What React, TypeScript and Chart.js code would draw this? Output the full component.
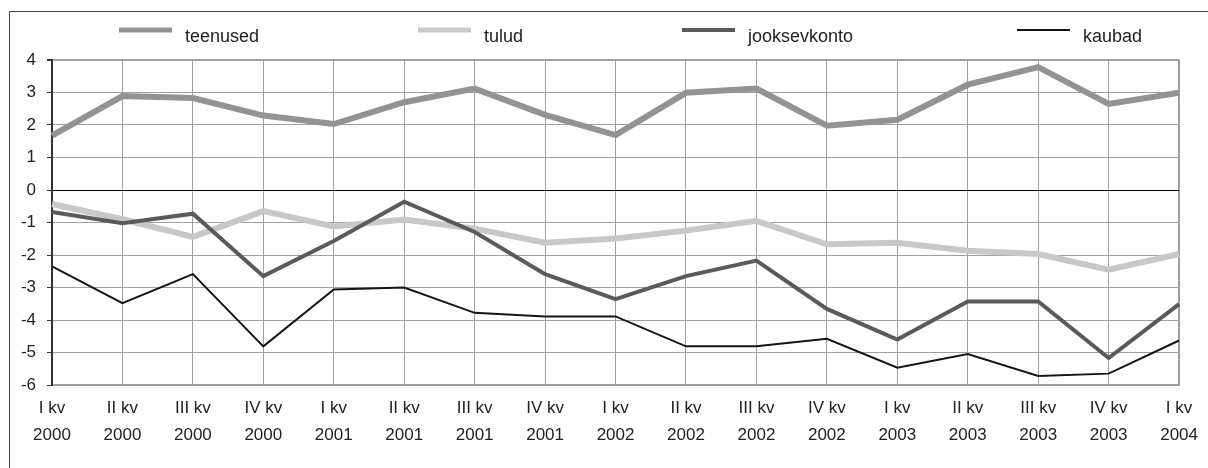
import React, { useEffect, useRef } from "react";
import { Chart, registerables } from "chart.js";

Chart.register(...registerables);

const quarters = ["I kv", "II kv", "III kv", "IV kv", "I kv", "II kv", "III kv", "IV kv", "I kv", "II kv", "III kv", "IV kv", "I kv", "II kv", "III kv", "IV kv", "I kv"];
const years = ["2000", "2000", "2000", "2000", "2001", "2001", "2001", "2001", "2002", "2002", "2002", "2002", "2003", "2003", "2003", "2003", "2004"];

const teenused = [1.67, 2.89, 2.83, 2.29, 2.03, 2.7, 3.12, 2.31, 1.69, 2.99, 3.12, 1.98, 2.16, 3.24, 3.78, 2.65, 2.99];
const tulud = [-0.43, -0.9, -1.44, -0.65, -1.12, -0.91, -1.19, -1.62, -1.49, -1.25, -0.95, -1.67, -1.62, -1.87, -1.97, -2.45, -1.97];
const jooksevkonto = [-0.68, -1.02, -0.73, -2.65, -1.57, -0.36, -1.29, -2.59, -3.36, -2.65, -2.17, -3.66, -4.6, -3.43, -3.43, -5.17, -3.51];
const kaubad = [-2.35, -3.48, -2.59, -4.81, -3.06, -3.0, -3.78, -3.89, -3.89, -4.81, -4.81, -4.58, -5.47, -5.05, -5.72, -5.65, -4.63];

const yMin = -6;
const yMax = 4;

const FONT = "Arial, 'Liberation Sans', sans-serif";

const excelLegend = {
  id: "excelLegend",
  afterDraw(chart: any, _args: any, opts: any) {
    const ctx = chart.ctx;
    ctx.save();
    ctx.strokeStyle = "#444";
    ctx.lineWidth = 1;
    ctx.beginPath();
    ctx.moveTo(9.5, chart.height + 5);
    ctx.lineTo(9.5, 11.5);
    ctx.lineTo(chart.width + 5, 11.5);
    ctx.stroke();
    chart.data.datasets.forEach((ds: any, i: number) => {
      const x = opts.xs[i];
      ctx.strokeStyle = ds.borderColor;
      ctx.lineWidth = opts.widths[i];
      ctx.lineCap = "butt";
      ctx.beginPath();
      ctx.moveTo(x, opts.lineY);
      ctx.lineTo(x + opts.lineLen, opts.lineY);
      ctx.stroke();
      ctx.fillStyle = "#222";
      ctx.font = `18px ${FONT}`;
      ctx.textBaseline = "alphabetic";
      ctx.textAlign = "left";
      ctx.fillText(ds.label, x + opts.lineLen + opts.gap, opts.textY);
    });
    ctx.restore();
  },
};

export default function App() {
  const ref = useRef<HTMLCanvasElement | null>(null);
  useEffect(() => {
    if (!ref.current) return;
    const labels = quarters.map((q, i) => [q, years[i]]);
    const chart = new Chart(ref.current, {
      type: "line",
      data: {
        labels,
        datasets: [
          { label: "teenused", data: teenused, borderColor: "#939393", borderWidth: 6, order: 4 },
          { label: "tulud", data: tulud, borderColor: "#c8c8c8", borderWidth: 6, order: 3 },
          { label: "jooksevkonto", data: jooksevkonto, borderColor: "#5a5a5a", borderWidth: 4, order: 2 },
          { label: "kaubad", data: kaubad, borderColor: "#151515", borderWidth: 2, order: 1 },
        ].map((d) => ({ ...d, pointRadius: 0, tension: 0, fill: false, backgroundColor: d.borderColor })),
      },
      options: {
        responsive: false,
        animation: false,
        devicePixelRatio: 1,
        layout: { padding: { top: 60, left: 0, right: 26, bottom: 8.6 } },
        plugins: {
          legend: { display: false },
          tooltip: { enabled: false },
          excelLegend: {
            xs: [119, 418, 682, 1017],
            widths: [5, 5, 4, 2],
            lineLen: 53,
            gap: 13,
            lineY: 30,
            textY: 42,
          },
        } as any,
        scales: {
          x: {
            offset: false,
            grid: {
              drawTicks: false,
              color: "#a0a0a0",
              lineWidth: (c: any) => (c.index === quarters.length - 1 ? 2 : 1),
            },
            border: { display: true, color: "#a0a0a0", width: 2 },
            ticks: {
              autoSkip: false,
              maxRotation: 0,
              padding: 10,
              color: "#222",
              font: { family: FONT, size: 17, lineHeight: 1.6 },
            },
          },
          y: {
            min: yMin,
            max: yMax,
            afterFit: (s: any) => {
              s.width = 52;
            },
            grid: {
              tickLength: 5,
              color: (c: any) => (c.tick && c.tick.value === 0 ? "#000" : "#a0a0a0"),
              tickColor: "#333",
              lineWidth: (c: any) => (c.tick && c.tick.value === yMax ? 2 : 1),
            },
            border: { display: true, color: "#333", width: 2 },
            ticks: {
              stepSize: 1,
              padding: 11,
              color: "#222",
              font: { family: FONT, size: 17 },
            },
          },
        },
      },
      plugins: [excelLegend],
    });
    return () => chart.destroy();
  }, []);
  return (
    <div style={{ position: "fixed", left: 0, top: 0, width: 1208, height: 468, background: "#fff" }}>
      <canvas ref={ref} width={1208} height={468} style={{ display: "block" }} />
    </div>
  );
}
